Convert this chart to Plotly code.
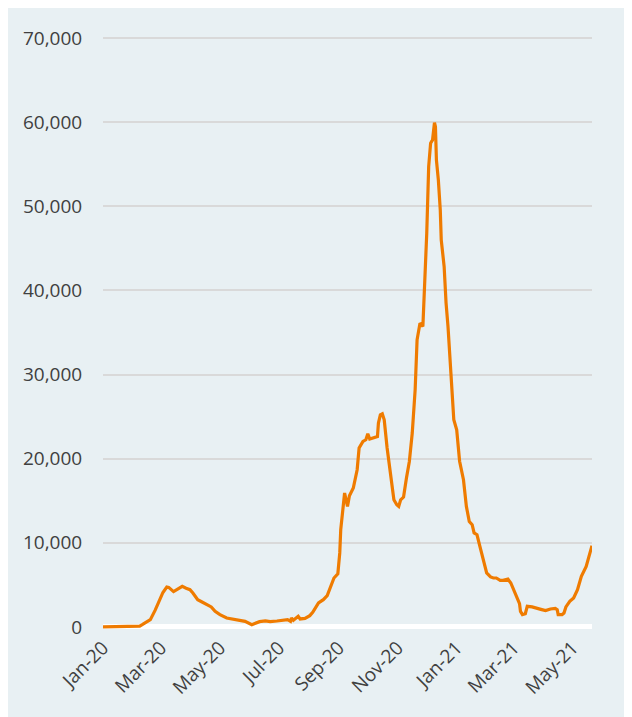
import plotly.graph_objects as go

dates = [
    "2020-01-01", "2020-01-19", "2020-02-05", "2020-02-08", "2020-02-11", "2020-02-19",
    "2020-02-24", "2020-02-28", "2020-03-03", "2020-03-07", "2020-03-09", "2020-03-14",
    "2020-03-18", "2020-03-23", "2020-03-27", "2020-03-31", "2020-04-03", "2020-04-08",
    "2020-04-12", "2020-04-18", "2020-04-22", "2020-04-26", "2020-05-01", "2020-05-08",
    "2020-05-15", "2020-05-22", "2020-05-27", "2020-06-03", "2020-06-06", "2020-06-11",
    "2020-06-17", "2020-06-22", "2020-06-29", "2020-07-05", "2020-07-10", "2020-07-13",
    "2020-07-14", "2020-07-16", "2020-07-21", "2020-07-23", "2020-07-28", "2020-08-02",
    "2020-08-05", "2020-08-11", "2020-08-16", "2020-08-20", "2020-08-24", "2020-08-27",
    "2020-08-31", "2020-09-02", "2020-09-03", "2020-09-06", "2020-09-07", "2020-09-10",
    "2020-09-12", "2020-09-16", "2020-09-20", "2020-09-22", "2020-09-26", "2020-09-29",
    "2020-10-01", "2020-10-03", "2020-10-07", "2020-10-11", "2020-10-12", "2020-10-14",
    "2020-10-16", "2020-10-18", "2020-10-21", "2020-10-24", "2020-10-26", "2020-10-28",
    "2020-10-31", "2020-11-02", "2020-11-04", "2020-11-07", "2020-11-10", "2020-11-13",
    "2020-11-16", "2020-11-19", "2020-11-21", "2020-11-24", "2020-11-27", "2020-11-29",
    "2020-12-01", "2020-12-03", "2020-12-05", "2020-12-07", "2020-12-08", "2020-12-09",
    "2020-12-10", "2020-12-11", "2020-12-13", "2020-12-15", "2020-12-16", "2020-12-19",
    "2020-12-21", "2020-12-23", "2020-12-26", "2020-12-29", "2021-01-01", "2021-01-04",
    "2021-01-08", "2021-01-11", "2021-01-14", "2021-01-17", "2021-01-19", "2021-01-22",
    "2021-01-25", "2021-01-29", "2021-02-01", "2021-02-05", "2021-02-08", "2021-02-11",
    "2021-02-15", "2021-02-18", "2021-02-23", "2021-02-26", "2021-03-01", "2021-03-04",
    "2021-03-07", "2021-03-08", "2021-03-10", "2021-03-13", "2021-03-15", "2021-03-20",
    "2021-03-25", "2021-03-30", "2021-04-03", "2021-04-08", "2021-04-13", "2021-04-15",
    "2021-04-16", "2021-04-20", "2021-04-22", "2021-04-24", "2021-04-28", "2021-05-02",
    "2021-05-06", "2021-05-10", "2021-05-15", "2021-05-18", "2021-05-21",
]

cases = [
    0, 10, 30, 100, 300, 870,
    2000, 3000, 4100, 4750, 4700, 4200,
    4500, 4820, 4600, 4430, 4040, 3240,
    3000, 2650, 2380, 1850, 1460, 1070,
    950, 850, 670, 270, 390, 630,
    710, 630, 710, 750, 870, 670,
    1070, 790, 1260, 950, 1020, 1340,
    1730, 2850, 3240, 3720, 5030, 5820,
    6330, 8800, 11560, 14330, 15920, 14330,
    15600, 16510, 18690, 21270, 22050, 22250,
    22960, 22330, 22520, 22640, 24230, 25220,
    25340, 24630, 21270, 18290, 17110, 15120,
    14530, 14330, 15120, 15440, 17700, 19670,
    23050, 28190, 34130, 36110, 35710, 40870,
    46800, 54720, 57500, 57890, 59470, 59940,
    59470, 55520, 53140, 49580, 46010, 42840,
    38490, 35710, 30180, 24630, 23440, 19700,
    17500, 14330, 12540, 12150, 11170, 10960,
    9580, 7790, 6420, 5940, 5820, 5820,
    5540, 5540, 5680, 5230, 4330, 3500,
    2770, 1850, 1460, 1580, 2450, 2380,
    2260, 2060, 1940, 2140, 2210, 2060,
    1460, 1460, 1660, 2380, 3040, 3440,
    4430, 6010, 7200, 8390, 9660,
]

x_ticks = ["2020-01-01", "2020-03-01", "2020-05-01", "2020-07-01", "2020-09-01",
           "2020-11-01", "2021-01-01", "2021-03-01", "2021-05-01"]
x_tick_labels = ["Jan-20", "Mar-20", "May-20", "Jul-20", "Sep-20",
                 "Nov-20", "Jan-21", "Mar-21", "May-21"]
y_ticks = [0, 10000, 20000, 30000, 40000, 50000, 60000, 70000]
y_tick_labels = ["0", "10,000", "20,000", "30,000", "40,000", "50,000", "60,000", "70,000"]

BG = "#E8F0F3"
FONT = dict(family="Open Sans, Liberation Sans, sans-serif", size=19, color="#404040")

fig = go.Figure()
fig.add_trace(go.Scatter(
    x=dates, y=cases, mode="lines",
    line=dict(color="#EF7B00", width=3.2),
    hoverinfo="x+y", showlegend=False,
))

fig.update_layout(
    width=624, height=709,
    margin=dict(l=95, r=40, t=25, b=85),
    paper_bgcolor=BG,
    plot_bgcolor=BG,
    font=FONT,
    xaxis=dict(
        type="date",
        range=["2020-01-01", "2021-05-21"],
        tickmode="array", tickvals=x_ticks, ticktext=x_tick_labels,
        tickangle=-45, showgrid=False, zeroline=False, showline=False,
        ticks="", tickfont=FONT,
    ),
    yaxis=dict(
        range=[-600, 70600],
        tickmode="array", tickvals=y_ticks, ticktext=y_tick_labels,
        showgrid=True, gridcolor="#D9D9D9", gridwidth=1.5,
        zeroline=True, zerolinecolor="white", zerolinewidth=5,
        showline=False, ticks="outside", ticklen=16, tickcolor="rgba(0,0,0,0)",
        tickfont=FONT,
    ),
)

fig.write_html("out.html")
